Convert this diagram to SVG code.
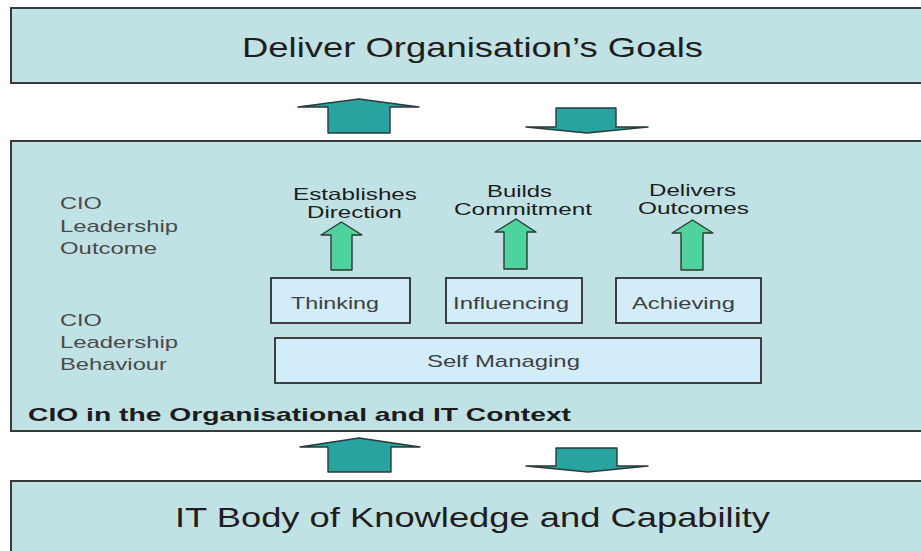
<svg xmlns="http://www.w3.org/2000/svg" width="921" height="551" viewBox="0 0 921 551">
<style>
.panel{fill:#c1e2e4;stroke:#3a3a3a;stroke-width:2}
.box{fill:#d2ecf9;stroke:#2e2e2e;stroke-width:1.8}
.big{fill:#29a39f;stroke:#2a3a38;stroke-width:1.4;stroke-linejoin:round}
.grn{fill:#4fd29d;stroke:#2a3a30;stroke-width:1.4;stroke-linejoin:round}
.t{font-family:"Liberation Sans",Arial,sans-serif}
.title{font-size:28px;fill:#1e1e1e}
.side{font-size:17px;fill:#4a4a4a}
.out{font-size:16.5px;fill:#1c1c1c;text-anchor:start}
.lbl{font-size:17px;fill:#404040}
.ctx{font-size:19px;font-weight:bold;fill:#1c1c1c}
</style>
<rect width="921" height="551" fill="#ffffff"/>
<g id="goals">
<rect class="panel" x="11" y="8" width="920" height="75"/>
<text class="t title" x="242" y="57" textLength="461" lengthAdjust="spacingAndGlyphs">Deliver Organisation’s Goals</text>
</g>
<g id="context">
<rect class="panel" x="11" y="141" width="920" height="290"/>
<text class="t side" x="60" y="209" textLength="42" lengthAdjust="spacingAndGlyphs">CIO</text>
<text class="t side" x="60" y="232" textLength="118" lengthAdjust="spacingAndGlyphs">Leadership</text>
<text class="t side" x="60" y="254" textLength="97" lengthAdjust="spacingAndGlyphs">Outcome</text>
<text class="t side" x="60" y="326" textLength="42" lengthAdjust="spacingAndGlyphs">CIO</text>
<text class="t side" x="60" y="348" textLength="118" lengthAdjust="spacingAndGlyphs">Leadership</text>
<text class="t side" x="60" y="370" textLength="107" lengthAdjust="spacingAndGlyphs">Behaviour</text>
<text class="t ctx" x="28" y="421" textLength="543" lengthAdjust="spacingAndGlyphs">CIO in the Organisational and IT Context</text>
</g>
<g id="outcome-direction">
<text class="t out" x="293" y="200" textLength="124" lengthAdjust="spacingAndGlyphs">Establishes</text>
<text class="t out" x="307" y="218" textLength="95" lengthAdjust="spacingAndGlyphs">Direction</text>
</g>
<g id="outcome-commitment">
<text class="t out" x="487" y="197" textLength="65" lengthAdjust="spacingAndGlyphs">Builds</text>
<text class="t out" x="454" y="215" textLength="138" lengthAdjust="spacingAndGlyphs">Commitment</text>
</g>
<g id="outcome-delivers">
<text class="t out" x="649" y="195.5" textLength="87" lengthAdjust="spacingAndGlyphs">Delivers</text>
<text class="t out" x="638" y="213.5" textLength="111" lengthAdjust="spacingAndGlyphs">Outcomes</text>
</g>
<g id="thinking">
<rect class="box" x="271" y="278" width="139" height="45"/>
<text class="t lbl" x="291" y="309" textLength="88" lengthAdjust="spacingAndGlyphs">Thinking</text>
</g>
<g id="influencing">
<rect class="box" x="446" y="278" width="136" height="45"/>
<text class="t lbl" x="453" y="309" textLength="116" lengthAdjust="spacingAndGlyphs">Influencing</text>
</g>
<g id="achieving">
<rect class="box" x="616" y="278" width="145" height="45"/>
<text class="t lbl" x="632" y="309" textLength="103" lengthAdjust="spacingAndGlyphs">Achieving</text>
</g>
<g id="self-managing">
<rect class="box" x="275" y="338" width="486" height="45"/>
<text class="t lbl" x="427" y="367" textLength="153" lengthAdjust="spacingAndGlyphs">Self Managing</text>
</g>
<g id="capability">
<rect class="panel" x="11" y="481" width="920" height="80"/>
<text class="t title" x="175" y="527" textLength="595" lengthAdjust="spacingAndGlyphs">IT Body of Knowledge and Capability</text>
</g>
<g id="connectors">
<polygon class="big" points="359,99 419,107 390,107 390,133 328,133 328,107 298,107"/>
<polygon class="big" points="556,108 616,108 616,127 648,127 587,133 526,127 556,127"/>
<polygon class="big" points="359,438 420,447 391,447 391,472 328,472 328,447 300,447"/>
<polygon class="big" points="556,448 617,448 617,466 648,466 588,472 526,466 556,466"/>
<polygon class="grn" points="341.5,222 362,235 352,235 352,270 331,270 331,235 321,235"/>
<polygon class="grn" points="516,219 536,232 527,232 527,269 504,269 504,232 495,232"/>
<polygon class="grn" points="692.5,220 713,233 703,233 703,270 681,270 681,233 672,233"/>
</g>
</svg>
